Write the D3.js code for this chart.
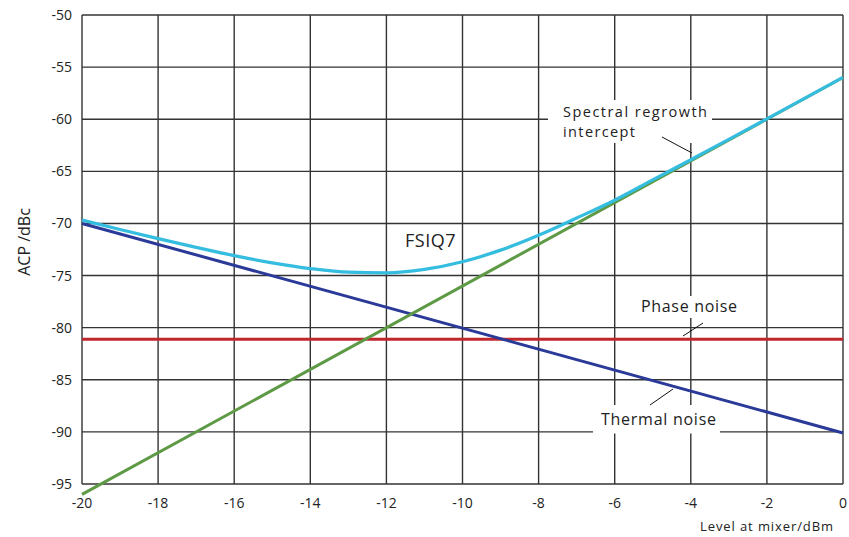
<!DOCTYPE html>
<html><head><meta charset="utf-8">
<script src="https://cdn.jsdelivr.net/npm/d3@7"></script>
<style>body{margin:0;background:#fff}svg{display:block}text{font-family:"Open Sans",sans-serif;fill:#222}</style>
</head><body>
<svg id="c" width="849" height="537"></svg>
<script>
const xTicks = [-20,-18,-16,-14,-12,-10,-8,-6,-4,-2,0];
const yTicks = [-50,-55,-60,-65,-70,-75,-80,-85,-90,-95];
const levels = [-20,-19,-18,-17,-16,-15,-14,-13,-12,-11,-10,-9,-8,-7,-6,-5,-4,-3,-2,-1,0];
const fsiq7 = [-69.67,-70.58,-71.46,-72.30,-73.09,-73.78,-74.33,-74.68,-74.74,-74.41,-73.68,-72.56,-71.13,-69.48,-67.77,-65.82,-63.89,-61.93,-59.96,-57.98,-55.98];
const thermalX = [-20,0], thermalY = [-70,-90.1];
const phaseX = [-20,0], phaseY = [-81.1,-81.1];
const regrowthX = [-20,0], regrowthY = [-96,-56];

const svg = d3.select("#c");
const L=82,T=15,R=843,B=484;
const x = d3.scaleLinear().domain([-20,0]).range([L,R]);
const y = d3.scaleLinear().domain([-95,-50]).range([B,T]);

// grid
const g = svg.append("g");
g.selectAll("line.v").data(xTicks).join("line").attr("x1",d=>x(d)).attr("x2",d=>x(d)).attr("y1",T).attr("y2",B).attr("stroke","#333").attr("stroke-width",1.4);
g.selectAll("line.h").data(yTicks).join("line").attr("x1",L).attr("x2",R).attr("y1",d=>y(d)).attr("y2",d=>y(d)).attr("stroke","#333").attr("stroke-width",1.4);

// label boxes
const boxes=[[548,100,712,143],[632,296,745,318],[593,405,720,433.5]];
svg.selectAll("rect.b").data(boxes).join("rect").attr("x",d=>d[0]).attr("y",d=>d[1]).attr("width",d=>d[2]-d[0]).attr("height",d=>d[3]-d[1]).attr("fill","#fff");

// axes labels
svg.append("g").selectAll("text").data(yTicks).join("text").attr("x",72).attr("y",d=>y(d)+5).attr("text-anchor","end").attr("font-size",14).text(d=>d);
svg.append("g").selectAll("text").data(xTicks).join("text").attr("x",d=>x(d)).attr("y",508).attr("text-anchor","middle").attr("font-size",14).text(d=>d);
svg.append("text").attr("transform","translate(30,242) rotate(-90)").attr("text-anchor","middle").attr("font-size",16).text("ACP /dBc");
svg.append("text").attr("x",833).attr("y",531).attr("text-anchor","end").attr("font-size",13).attr("textLength",133).text("Level at mixer/dBm");

const line = d3.line().x(d=>x(d[0])).y(d=>y(d[1]));
const zip=(a,b)=>a.map((v,i)=>[v,b[i]]);
const series=[
 [zip(phaseX,phaseY),"#c0272d"],
 [zip(thermalX,thermalY),"#2b3a98"],
 [zip(regrowthX,regrowthY),"#5e9a46"],
];
svg.selectAll("path.s").data(series).join("path").attr("d",d=>line(d[0])).attr("fill","none").attr("stroke",d=>d[1]).attr("stroke-width",3);
svg.append("path").attr("d",d3.line().curve(d3.curveMonotoneX).x(d=>x(d[0])).y(d=>y(d[1]))(zip(levels,fsiq7))).attr("fill","none").attr("stroke","#35bde0").attr("stroke-width",3.2);

// leaders
const leaders=[[662,137,692,153],[683,336,703,323],[650,405,673,389]];
svg.selectAll("line.l").data(leaders).join("line").attr("x1",d=>d[0]).attr("y1",d=>d[1]).attr("x2",d=>d[2]).attr("y2",d=>d[3]).attr("stroke","#111").attr("stroke-width",1);

// text labels
svg.append("text").attr("x",563).attr("y",117).attr("font-size",14.5).attr("textLength",144).text("Spectral regrowth");
svg.append("text").attr("x",563).attr("y",137).attr("font-size",14.5).attr("textLength",72).text("intercept");
const lab=(t,xx,yy,w)=>svg.append("text").attr("x",xx).attr("y",yy).attr("font-size",16).attr("textLength",w).text(t);
lab("Phase noise",641,312,96);
lab("Thermal noise",601,425,115);
svg.append("text").attr("x",405).attr("y",247).attr("font-size",18).attr("letter-spacing",0.5).text("FSIQ7");
</script>
</body></html>
